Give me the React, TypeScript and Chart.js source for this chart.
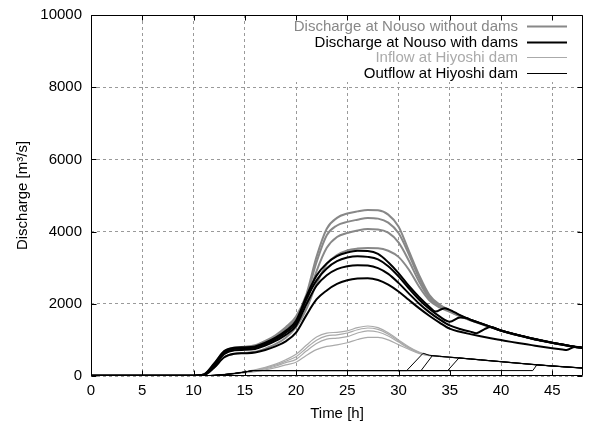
import React, { useEffect, useRef } from 'react';
import { Chart, registerables } from 'chart.js';

Chart.register(...registerables);

// Time axis (hours)
const hours = [0, 1, 2, 3, 4, 5, 6, 7, 8, 9, 10, 11, 12, 13, 14, 15, 16, 17, 18, 19, 20, 21, 22, 23, 24, 25, 26, 27, 28, 29, 30, 31, 32, 33, 34, 35, 36, 37, 38, 39, 40, 41, 42, 43, 44, 45, 46, 47, 48];

// Discharge at Nouso without dams (m3/s), one value per hour
const noDams1 = [5, 5, 5, 5, 5, 5, 5, 5, 5, 5, 10, 40, 340, 690, 790, 810, 850, 970, 1130, 1350, 1650, 2250, 3300, 4080, 4380, 4500, 4560, 4600, 4590, 4470, 4140, 3470, 2800, 2250, 1980, 1820, 1680, 1560, 1460, 1360, 1260, 1180, 1110, 1040, 980, 920, 870, 820, 780];
const noDams2 = [5, 5, 5, 5, 5, 5, 5, 5, 5, 5, 10, 35, 310, 650, 760, 780, 815, 930, 1090, 1300, 1600, 2180, 3150, 3900, 4170, 4270, 4330, 4380, 4360, 4250, 3960, 3380, 2720, 2200, 1960, 1810, 1670, 1555, 1455, 1357, 1258, 1178, 1108, 1038, 978, 918, 868, 818, 778];
const noDams3 = [5, 5, 5, 5, 5, 5, 5, 5, 5, 5, 10, 30, 280, 610, 720, 740, 770, 880, 1030, 1230, 1500, 2050, 2900, 3550, 3850, 3960, 4030, 4070, 4060, 3970, 3700, 3200, 2620, 2160, 1940, 1800, 1660, 1550, 1450, 1353, 1255, 1175, 1105, 1035, 975, 915, 865, 815, 776];
const noDams4 = [5, 5, 5, 5, 5, 5, 5, 5, 5, 5, 10, 25, 230, 520, 620, 640, 670, 760, 880, 1060, 1350, 1850, 2550, 3100, 3350, 3480, 3530, 3545, 3540, 3470, 3300, 2950, 2480, 2100, 1900, 1780, 1650, 1545, 1447, 1350, 1252, 1172, 1102, 1032, 972, 912, 862, 812, 774];

// Discharge at Nouso with dams: [time h, discharge m3/s]
const withDams1: [number, number][] = [[0, 5], [10, 10], [11, 40], [12, 340], [13, 690], [14, 785], [15, 795], [16, 820], [17, 920], [18, 1060], [19, 1250], [20, 1530], [21, 2200], [22, 2780], [23, 3120], [24, 3320], [25, 3420], [26, 3470], [27, 3460], [28, 3380], [29, 3150], [30, 2850], [31, 2500], [32, 2190], [33, 1920], [33.6, 1785], [34.5, 1880], [35.5, 1760], [36, 1685], [37, 1562], [38, 1462], [39, 1362], [40, 1262], [41, 1182], [42, 1112], [43, 1042], [44, 982], [45, 922], [46, 872], [47, 822], [48, 782]];
const withDams2: [number, number][] = [[0, 5], [10, 10], [11, 35], [12, 310], [13, 650], [14, 755], [15, 765], [16, 790], [17, 885], [18, 1020], [19, 1200], [20, 1460], [21, 2120], [22, 2650], [23, 2980], [24, 3180], [25, 3280], [26, 3320], [27, 3300], [28, 3230], [29, 3040], [30, 2760], [31, 2430], [32, 2120], [33, 1860], [34, 1650], [35, 1505], [36, 1620], [36.7, 1600], [37, 1557], [38, 1457], [39, 1359], [40, 1260], [41, 1180], [42, 1110], [43, 1040], [44, 980], [45, 920], [46, 870], [47, 820], [48, 780]];
const withDams3: [number, number][] = [[0, 5], [10, 10], [11, 30], [12, 280], [13, 610], [14, 715], [15, 725], [16, 750], [17, 840], [18, 970], [19, 1140], [20, 1390], [21, 1980], [22, 2500], [23, 2790], [24, 2960], [25, 3040], [26, 3070], [27, 3060], [28, 2990], [29, 2830], [30, 2580], [31, 2290], [32, 2010], [33, 1770], [34, 1570], [35, 1400], [36, 1300], [37, 1230], [37.6, 1185], [38.4, 1300], [39, 1357], [40, 1258], [41, 1178], [42, 1108], [43, 1038], [44, 978], [45, 918], [46, 868], [47, 818], [48, 778]];
const withDams4: [number, number][] = [[0, 5], [10, 10], [11, 25], [12, 230], [13, 520], [14, 615], [15, 630], [16, 650], [17, 720], [18, 820], [19, 960], [20, 1200], [21, 1680], [22, 2120], [23, 2370], [24, 2550], [25, 2650], [26, 2700], [27, 2710], [28, 2660], [29, 2530], [30, 2340], [31, 2110], [32, 1880], [33, 1670], [34, 1480], [35, 1310], [36, 1225], [37, 1160], [38, 1100], [39, 1045], [40, 995], [41, 945], [42, 900], [43, 855], [44, 810], [45, 770], [46, 735], [46.4, 722], [47.2, 805], [48, 778]];

// Inflow at Hiyoshi dam (m3/s), one value per hour
const inflow1 = [0, 0, 0, 0, 0, 0, 0, 0, 0, 0, 0, 5, 20, 45, 80, 120, 170, 240, 330, 450, 600, 850, 1080, 1190, 1210, 1250, 1340, 1385, 1340, 1200, 1000, 810, 660, 575, 546, 521, 498, 473, 448, 423, 398, 373, 348, 323, 300, 279, 259, 240, 222];
const inflow2 = [0, 0, 0, 0, 0, 0, 0, 0, 0, 0, 0, 4, 18, 40, 72, 110, 155, 220, 300, 410, 530, 770, 990, 1110, 1140, 1190, 1280, 1330, 1290, 1160, 970, 790, 650, 572, 545, 520, 497, 472, 447, 422, 397, 372, 347, 322, 299, 278, 258, 239, 221];
const inflow3 = [0, 0, 0, 0, 0, 0, 0, 0, 0, 0, 0, 3, 15, 35, 65, 100, 140, 200, 270, 370, 460, 690, 900, 1020, 1050, 1090, 1190, 1250, 1220, 1110, 940, 770, 640, 570, 544, 519, 496, 471, 446, 421, 396, 371, 346, 321, 298, 277, 257, 238, 220];
const inflow4 = [0, 0, 0, 0, 0, 0, 0, 0, 0, 0, 0, 2, 12, 30, 55, 85, 120, 170, 230, 310, 380, 570, 730, 820, 860, 920, 1010, 1070, 1070, 1000, 870, 740, 625, 565, 542, 518, 495, 470, 445, 420, 395, 370, 345, 320, 297, 276, 256, 237, 219];

// Outflow at Hiyoshi dam: [time h, discharge m3/s]
const outflow1: [number, number][] = [[0, 0], [11, 5], [12, 18], [13, 40], [14, 70], [15, 110], [15.8, 150], [30.8, 150], [32.4, 630], [33, 574], [34, 546], [35, 521], [36, 498], [37, 473], [38, 448], [39, 423], [40, 398], [41, 373], [42, 348], [43, 323], [44, 300], [45, 279], [46, 259], [47, 240], [48, 222]];
const outflow2: [number, number][] = [[0, 0], [11, 5], [12, 18], [13, 40], [14, 70], [15, 110], [15.8, 150], [32.2, 150], [33.3, 562], [34, 545], [35, 520], [36, 497], [37, 472], [38, 447], [39, 422], [40, 397], [41, 372], [42, 347], [43, 322], [44, 299], [45, 278], [46, 258], [47, 239], [48, 221]];
const outflow3: [number, number][] = [[0, 0], [11, 5], [12, 18], [13, 40], [14, 70], [15, 110], [15.8, 150], [34.8, 150], [35.9, 500], [37, 471], [38, 446], [39, 421], [40, 396], [41, 371], [42, 346], [43, 321], [44, 298], [45, 277], [46, 257], [47, 238], [48, 220]];
const outflow4: [number, number][] = [[0, 0], [11, 5], [12, 18], [13, 40], [14, 70], [15, 110], [15.8, 150], [43.1, 150], [43.5, 310], [44, 297], [45, 276], [46, 256], [47, 237], [48, 219]];

const legendLabels = ['Discharge at Nouso without dams', 'Discharge at Nouso with dams', 'Inflow at Hiyoshi dam', 'Outflow at Hiyoshi dam'];
const xTitle = 'Time [h]';
const yTitle = 'Discharge [m³/s]';

const FONT = '"Liberation Sans", Arial, Helvetica, sans-serif';
const colors = ['#888888', '#000000', '#aaaaaa', '#000000'];
const widths = [2, 2, 1.2, 1];

const fromHours = (vals: number[]) => hours.map((h, i) => ({ x: h, y: vals[i] }));
const fromPairs = (p: [number, number][]) => p.map(([x, y]) => ({ x, y }));

const framePlugin = {
  id: 'frameLegend',
  afterDatasetsDraw(chart: any) {
    const { ctx, chartArea: a } = chart;
    ctx.save();
    // opaque key box
    ctx.fillStyle = '#ffffff';
    ctx.fillRect(a.right - 297, a.top + 1, 296, 66);
    ctx.font = `15px ${FONT}`;
    ctx.textAlign = 'right';
    ctx.textBaseline = 'middle';
    legendLabels.forEach((lab, i) => {
      const y = Math.round(a.top + 11 + i * 15.5) + 0.5;
      ctx.fillStyle = colors[i];
      ctx.fillText(lab, a.right - 65, y);
      ctx.strokeStyle = colors[i];
      ctx.lineWidth = widths[i];
      ctx.beginPath();
      ctx.moveTo(a.right - 56, y);
      ctx.lineTo(a.right - 16, y);
      ctx.stroke();
    });
    ctx.restore();
  },
  afterDraw(chart: any) {
    const { ctx, chartArea: a, scales } = chart;
    ctx.save();
    ctx.strokeStyle = '#000';
    ctx.lineWidth = 1;
    const L = Math.round(a.left) + 0.5;
    const R = Math.round(a.right) - 0.5;
    const T = Math.round(a.top) + 0.5;
    const B = Math.round(a.bottom) - 0.5;
    ctx.beginPath();
    ctx.rect(L, T, R - L, B - T);
    ctx.stroke();
    const tl = 5;
    ctx.beginPath();
    scales.x.ticks.forEach((t: any) => {
      const px = Math.round(scales.x.getPixelForValue(t.value)) + 0.5;
      ctx.moveTo(px, B);
      ctx.lineTo(px, B - tl);
      ctx.moveTo(px, T);
      ctx.lineTo(px, T + tl);
    });
    scales.y.ticks.forEach((t: any) => {
      const py = Math.round(scales.y.getPixelForValue(t.value)) + 0.5;
      ctx.moveTo(L, py);
      ctx.lineTo(L + tl, py);
      ctx.moveTo(R, py);
      ctx.lineTo(R - tl, py);
    });
    ctx.stroke();
    ctx.restore();
  },
};

export default function App() {
  const ref = useRef<HTMLCanvasElement>(null);
  useEffect(() => {
    document.body.style.margin = '0';
    const canvas = ref.current!;
    const smooth = { pointRadius: 0, cubicInterpolationMode: 'monotone' as const, fill: false };
    const datasets: any[] = [];
    [noDams1, noDams2, noDams3, noDams4].forEach((d, i) =>
      datasets.push({ label: i === 0 ? legendLabels[0] : '', data: fromHours(d), borderColor: colors[0], borderWidth: widths[0], order: 4, ...smooth })
    );
    [withDams1, withDams2, withDams3, withDams4].forEach((d, i) =>
      datasets.push({ label: i === 0 ? legendLabels[1] : '', data: fromPairs(d), borderColor: colors[1], borderWidth: widths[1], order: 3, ...smooth })
    );
    [inflow1, inflow2, inflow3, inflow4].forEach((d, i) =>
      datasets.push({ label: i === 0 ? legendLabels[2] : '', data: fromHours(d), borderColor: colors[2], borderWidth: widths[2], order: 2, ...smooth })
    );
    [outflow1, outflow2, outflow3, outflow4].forEach((d, i) =>
      datasets.push({ label: i === 0 ? legendLabels[3] : '', data: fromPairs(d), borderColor: colors[3], borderWidth: widths[3], order: 1, pointRadius: 0, tension: 0, fill: false })
    );

    const chart = new Chart(canvas, {
      type: 'line',
      data: { datasets },
      options: {
        animation: false,
        responsive: false,
        devicePixelRatio: 1,
        layout: { padding: { top: 15, right: 6, left: 0, bottom: 0 } },
        plugins: { legend: { display: false }, tooltip: { enabled: false } },
        scales: {
          x: {
            type: 'linear',
            min: 0,
            max: 48,
            ticks: { stepSize: 5, includeBounds: false, font: { family: FONT, size: 15 }, color: '#000', padding: 6, maxRotation: 0, callback: (v: any) => String(v) },
            grid: { color: '#9a9a9a', lineWidth: 1, drawTicks: false },
            border: { display: false, dash: [3, 3] },
            title: { display: true, text: xTitle, font: { family: FONT, size: 15 }, color: '#000', padding: { top: 0, bottom: 5 } },
            afterFit: (s: any) => { s.height = 52; },
          },
          y: {
            type: 'linear',
            min: 0,
            max: 10000,
            ticks: { stepSize: 2000, font: { family: FONT, size: 15 }, color: '#000', padding: 5, callback: (v: any) => String(v) },
            grid: { color: '#9a9a9a', lineWidth: 1, drawTicks: true, tickLength: 4, tickColor: 'rgba(0,0,0,0)' },
            border: { display: false, dash: [3, 3] },
            title: { display: true, text: yTitle, font: { family: FONT, size: 15 }, color: '#000', padding: { top: 14, bottom: 0 } },
            afterFit: (s: any) => { s.width = 91; },
          },
        },
      },
      plugins: [framePlugin],
    });
    return () => chart.destroy();
  }, []);
  return (
    <div style={{ width: 589, height: 428 }}>
      <canvas ref={ref} width={589} height={428} style={{ display: 'block' }} />
    </div>
  );
}
